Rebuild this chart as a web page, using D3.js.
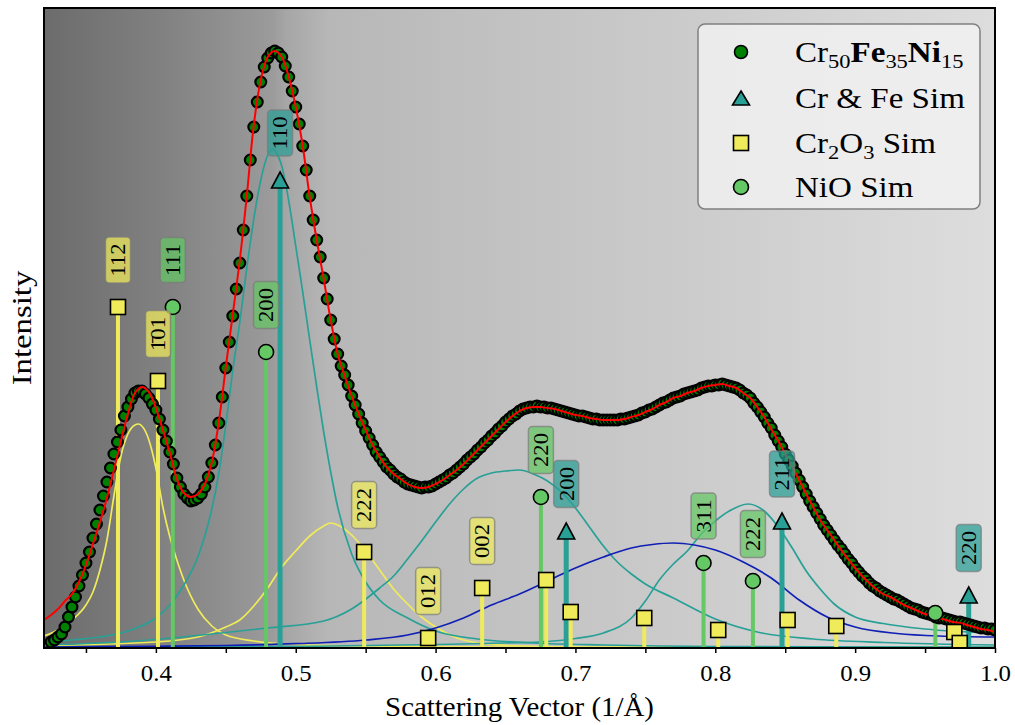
<!DOCTYPE html>
<html>
<head>
<meta charset="utf-8">
<script src="https://cdn.jsdelivr.net/npm/d3@7"></script>
<style>
  body { margin: 0; background: #ffffff; }
  svg text { font-family: "Liberation Serif", "Times New Roman", serif; fill: #000; }
</style>
</head>
<body>
<svg id="chart" width="1015" height="725"></svg>
<script>
// ---------- measured pattern (Cr50Fe35Ni15) ----------
const dataStart = 0.325;
const dataStep = 0.0025;
const dataIntensity = [
  6,8,11,14,21,31,41,51,62,73,
  85,96,110,124,138,152,166,180,194,206,
  218,232,241,249,255,257,257,254,250,244,
  238,229,218,207,196,184,170,161,154,150,
  147,148,150,154,161,171,185,203,225,251,
  280,306,332,359,385,418,452,488,521,546,
  566,581,590,595,597,595,591,582,571,557,
  541,524,502,478,452,428,408,391,370,349,
  328,309,294,282,273,263,252,243,234,225,
  217,210,203,196,191,186,181,178,174,171,
  169,166,164,163,162,161,160,161,161,162,
  164,166,168,170,173,175,178,181,184,188,
  191,194,198,201,205,208,212,215,219,222,
  226,229,232,234,237,239,240,241,241,242,
  241,241,240,240,239,238,237,236,235,234,
  233,232,232,231,230,229,229,228,228,228,
  228,228,228,229,229,230,231,232,233,235,
  236,238,239,241,243,245,246,248,250,251,
  252,254,255,256,257,258,260,261,262,262,
  263,263,264,263,262,261,260,258,255,253,
  250,245,241,236,231,225,220,213,207,201,
  194,188,182,175,168,161,154,147,141,135,
  129,123,118,113,108,103,99,94,89,85,
  80,76,72,69,65,62,60,57,55,53,
  51,49,48,46,44,42,40,39,38,36,
  35,34,33,31,30,30,29,28,27,26,
  26,25,24,23,22,21,20,20,19,19,18
];

// ---------- total fit ----------
const fitStart = 0.32;
const fitStep = 0.005;
const fitIntensity = [
  28,33,39,47,54,66,83,104,126,150,
  178,207,234,255,261,256,240,218,195,169,
  155,151,154,164,186,226,281,334,388,452,
  523,568,591,597,591,571,541,502,451,408,
  369,328,294,272,252,234,218,203,191,181,
  174,169,164,161,160,161,164,168,173,178,
  184,191,198,205,212,219,226,232,237,240,
  241,241,240,239,237,235,233,232,230,229,
  228,228,228,229,231,233,236,239,243,246,
  250,252,255,257,260,262,263,264,262,260,
  255,250,241,231,219,207,194,181,168,154,
  141,128,118,108,98,89,80,72,65,59,
  54,51,47,43,40,37,34,32,30,28,
  26,25,23,21,19,18,16
];

// ---------- fitted components ----------
const cr2o3NarrowQ = [0.32,0.33,0.34,0.35,0.355,0.36,0.365,0.37,0.375,0.38,0.385,0.3875,0.39,0.395,0.40,0.405,0.41,0.415,0.42,0.43,0.44,0.45,0.47,0.50,0.55,0.65,0.80,1.0];
const cr2o3NarrowI = [12,18,28,43,56,78,108,152,192,214,223,224,222,208,180,141,111,88,68,39,22,13,7,3.5,2,1,0.5,0.5];

const cr2o3BroadQ = [0.32,0.40,0.43,0.45,0.46,0.47,0.48,0.49,0.50,0.51,0.52,0.525,0.53,0.54,0.55,0.56,0.57,0.58,0.59,0.60,0.62,0.65,0.70,1.0];
const cr2o3BroadI = [2.5,6,11,21,28,42,60,81,97,112,122,125,123,113,97,78,59,44,31,21,8,2.6,1,0.5];

const crFeMainQ = [0.32,0.34,0.36,0.38,0.40,0.41,0.42,0.43,0.435,0.44,0.445,0.45,0.455,0.46,0.465,0.47,0.475,0.48,0.4835,0.487,0.49,0.495,0.50,0.505,0.51,0.515,0.52,0.525,0.53,0.54,0.55,0.56,0.58,0.60,0.63,0.67,0.72,0.80,1.0];
const crFeMainI = [5,8,11,17,30,43,63,91,112,139,175,223,278,326,380,429,468,493,499,493,482,447,402,356,308,261,216,176,141,94,66,48,30,17,9,5,3,1.5,1];

const crFeBroadQ = [0.32,0.38,0.44,0.48,0.52,0.54,0.56,0.57,0.58,0.59,0.60,0.61,0.62,0.63,0.64,0.65,0.66,0.67,0.68,0.69,0.70,0.71,0.72,0.73,0.74,0.75,0.77,0.80,0.83,0.87,0.92,1.0];
const crFeBroadI = [3,6.5,14,20,27,39,60,72,89,107,126,144,159,170,175,177,178,174,167,156,140,121,102,86,74,64,50,29,16,9,5.5,3];

const crFeHighQ = [0.32,0.50,0.60,0.65,0.68,0.70,0.72,0.74,0.75,0.76,0.77,0.78,0.79,0.80,0.81,0.8235,0.835,0.845,0.855,0.865,0.875,0.885,0.90,0.92,0.95,1.0];
const crFeHighI = [0.5,1.5,3.5,5,6.5,9.5,15,30,47,68,84,97,114,127,137,144,137,121,100,77,59,44,31,24.5,19,15];

const oxideBroadQ = [0.32,0.40,0.45,0.50,0.55,0.58,0.60,0.62,0.64,0.66,0.68,0.70,0.72,0.74,0.755,0.77,0.785,0.80,0.82,0.84,0.86,0.88,0.90,0.93,0.96,1.0];
const oxideBroadI = [1,1.7,2.5,4.3,8,13,20,30,43,54,67,80,91,100,103.5,105,103,98,86,70,48,31,21,14.5,12,11];

// ---------- simulated reflections ----------
const crFePeakQ = [0.4888,0.6934,0.8477,0.9812];
const crFePeakI = [468,117,127,53];
const crFeHkl = ["110","200","211","220"];

const cr2o3PeakQ = [0.3729,0.4015,0.5489,0.5947,0.6333,0.6791,0.6966,0.7492,0.8021,0.8517,0.8865,0.9709,0.9748];
const cr2o3PeakI = [341,267,96,10,60,68,36,30,18,28,22,16,5];
const cr2o3Hkl = ["112","1\u030401","222","012","002",null,null,null,null,null,null,null,null];

const nioPeakQ = [0.4121,0.4788,0.6753,0.7916,0.8269,0.9573];
const nioPeakI = [341,296,151,85,67,35];
const nioHkl = ["111","200","220","311","222",null];

// ---------- axis ----------
const xTickValues = [0.35,0.4,0.45,0.5,0.55,0.6,0.65,0.7,0.75,0.8,0.85,0.9,0.95,1.0];
const xTickLabels = ["0.4","0.5","0.6","0.7","0.8","0.9","1.0"];

// ---------- styling ----------
const COL = {
  data: "#008000",
  fit: "#ff0000",
  yellow: "#efeb5a",
  teal: "#28a096",
  green: "#64c864",
  blue: "#1020b4"
};

const svg = d3.select("#chart");
const plot = { left: 44, right: 995, top: 8, bottom: 648 };

const x = d3.scaleLinear().domain([0.32, 1.0]).range([plot.left, plot.right]);
const y = d3.scaleLinear().domain([0, 640]).range([plot.bottom, plot.top]);

const defs = svg.append("defs");
const bgStops = [
  [0.00, "#6c6c6c"], [0.12, "#808080"], [0.24, "#9b9b9b"], [0.255, "#a6a6a6"],
  [0.30, "#b7b7b7"], [0.45, "#c0c0c0"], [0.65, "#cacaca"], [0.85, "#d5d5d5"], [1.00, "#dddddd"]
];
const grad = defs.append("linearGradient").attr("id", "bgGrad")
  .attr("x1", 0).attr("x2", 1).attr("y1", 0).attr("y2", 0);
bgStops.forEach(([o, c]) => grad.append("stop").attr("offset", o).attr("stop-color", c));

defs.append("clipPath").attr("id", "plotClip").append("rect")
  .attr("x", plot.left).attr("y", plot.top)
  .attr("width", plot.right - plot.left).attr("height", plot.bottom - plot.top);

svg.append("rect")
  .attr("x", plot.left).attr("y", plot.top)
  .attr("width", plot.right - plot.left).attr("height", plot.bottom - plot.top)
  .attr("fill", "url(#bgGrad)");

const inner = svg.append("g").attr("clip-path", "url(#plotClip)");

// component curves
const line = d3.line().x(d => x(d[0])).y(d => y(d[1])).curve(d3.curveMonotoneX);
const components = [
  [cr2o3NarrowQ, cr2o3NarrowI, COL.yellow],
  [cr2o3BroadQ, cr2o3BroadI, COL.yellow],
  [crFeMainQ, crFeMainI, COL.teal],
  [crFeBroadQ, crFeBroadI, COL.teal],
  [crFeHighQ, crFeHighI, COL.teal],
  [oxideBroadQ, oxideBroadI, COL.blue]
];
components.forEach(([qs, is, c]) => {
  inner.append("path")
    .datum(qs.map((q, i) => [q, is[i]]))
    .attr("d", line)
    .attr("fill", "none").attr("stroke", c).attr("stroke-width", 1.7);
});

// stems
const stemSets = [
  [nioPeakQ, nioPeakI, COL.green, 4],
  [crFePeakQ, crFePeakI, COL.teal, 5],
  [cr2o3PeakQ, cr2o3PeakI, COL.yellow, 4]
];
stemSets.forEach(([qs, is, c, w]) => {
  inner.append("g").selectAll("line").data(qs.map((q, i) => [q, is[i]])).join("line")
    .attr("x1", d => x(d[0])).attr("x2", d => x(d[0]))
    .attr("y1", y(0)).attr("y2", d => y(d[1]))
    .attr("stroke", c).attr("stroke-width", w);
});

// measured points
const pts = dataIntensity.map((v, i) => [dataStart + i * dataStep, v]);
inner.append("g").selectAll("circle").data(pts).join("circle")
  .attr("cx", d => x(d[0])).attr("cy", d => y(d[1])).attr("r", 5.4)
  .attr("fill", COL.data).attr("stroke", "#000").attr("stroke-width", 2.2);

// total fit
const fitPts = fitIntensity.map((v, i) => [fitStart + i * fitStep, v]);
inner.append("path").datum(fitPts)
  .attr("d", d3.line().x(d => x(d[0])).y(d => y(d[1])).curve(d3.curveCatmullRom))
  .attr("fill", "none").attr("stroke", COL.fit).attr("stroke-width", 2);

// markers
function triPath(w, h) {
  return `M0,${-h / 2}L${w / 2},${h / 2}L${-w / 2},${h / 2}Z`;
}
const markerG = inner.append("g");
markerG.selectAll("circle.nio").data(nioPeakQ.map((q, i) => [q, nioPeakI[i]])).join("circle")
  .attr("class", "nio")
  .attr("cx", d => x(d[0])).attr("cy", d => y(d[1])).attr("r", 7.5)
  .attr("fill", COL.green).attr("stroke", "#000").attr("stroke-width", 1.6);
markerG.selectAll("path.crfe").data(crFePeakQ.map((q, i) => [q, crFePeakI[i]])).join("path")
  .attr("class", "crfe")
  .attr("transform", d => `translate(${x(d[0])},${y(d[1])})`)
  .attr("d", triPath(17, 16))
  .attr("fill", COL.teal).attr("stroke", "#000").attr("stroke-width", 1.6);
markerG.selectAll("rect.ox").data(cr2o3PeakQ.map((q, i) => [q, cr2o3PeakI[i]])).join("rect")
  .attr("class", "ox")
  .attr("x", d => x(d[0]) - 7.5).attr("y", d => y(d[1]) - 7.5)
  .attr("width", 15).attr("height", 15)
  .attr("fill", COL.yellow).attr("stroke", "#000").attr("stroke-width", 1.6);

// reflection labels
const labelSets = [
  [nioPeakQ, nioPeakI, nioHkl, COL.green],
  [crFePeakQ, crFePeakI, crFeHkl, COL.teal],
  [cr2o3PeakQ, cr2o3PeakI, cr2o3Hkl, COL.yellow]
];
const labelLayer = svg.append("g");
labelSets.forEach(([qs, is, hkl, c]) => {
  qs.forEach((q, i) => {
    if (!hkl[i]) return;
    const g = labelLayer.append("g")
      .attr("transform", `translate(${x(q)},${y(is[i]) - 47}) rotate(-90)`);
    const box = g.append("rect");
    const t = g.append("text")
      .attr("text-anchor", "middle").attr("dominant-baseline", "central")
      .attr("font-size", 21.5).attr("transform", "scale(1.05,1)").text(hkl[i]);
    const bb = t.node().getBBox();
    const w = bb.width * 1.05 + 13, h = 25;
    box.attr("x", -w / 2).attr("y", -h / 2).attr("width", w).attr("height", h)
      .attr("rx", 4).attr("ry", 4)
      .attr("fill", c).attr("fill-opacity", 0.72)
      .attr("stroke", "#7a7a7a").attr("stroke-opacity", 0.7).attr("stroke-width", 1.5);
  });
});

// frame
svg.append("rect")
  .attr("x", plot.left).attr("y", plot.top)
  .attr("width", plot.right - plot.left).attr("height", plot.bottom - plot.top)
  .attr("fill", "none").attr("stroke", "#000").attr("stroke-width", 2);

// x axis
const xAxis = d3.axisBottom(x)
  .tickValues(xTickValues)
  .tickSize(5).tickSizeOuter(0).tickPadding(12)
  .tickFormat(d => {
    const s = d.toFixed(1);
    return (Math.abs(d * 10 - Math.round(d * 10)) < 1e-6 && xTickLabels.includes(s)) ? s : "";
  });
const axG = svg.append("g").attr("transform", `translate(0,${plot.bottom})`).call(xAxis);
axG.select(".domain").remove();
axG.selectAll(".tick line").attr("stroke", "#000").attr("stroke-width", 1.5);
axG.selectAll(".tick text")
  .attr("font-family", "Liberation Serif, serif").attr("font-size", 23).attr("fill", "#000")
  .attr("transform", "scale(1.08,1)");

// axis titles
svg.append("text")
  .attr("transform", `translate(${(plot.left + plot.right) / 2},716) scale(1.05,1)`)
  .attr("text-anchor", "middle").attr("font-size", 27.5)
  .text("Scattering Vector (1/\u00C5)");
svg.append("text")
  .attr("transform", `translate(31,${(plot.top + plot.bottom) / 2}) rotate(-90) scale(1.17,1)`)
  .attr("text-anchor", "middle").attr("font-size", 28)
  .text("Intensity");

// legend
const legend = svg.append("g");
legend.append("rect")
  .attr("x", 698).attr("y", 24).attr("width", 282).attr("height", 185)
  .attr("rx", 7).attr("ry", 7)
  .attr("fill", "#f2f2f2").attr("fill-opacity", 0.8)
  .attr("stroke", "#808080").attr("stroke-width", 1.5);

const legendRows = [52, 98, 143, 187];
const lmx = 741, ltx = 795;
legend.append("circle").attr("cx", lmx).attr("cy", legendRows[0]).attr("r", 6.5)
  .attr("fill", COL.data).attr("stroke", "#000").attr("stroke-width", 1.6);
legend.append("path").attr("transform", `translate(${lmx},${legendRows[1]})`)
  .attr("d", triPath(17, 14)).attr("fill", COL.teal).attr("stroke", "#000").attr("stroke-width", 1.6);
legend.append("rect").attr("x", lmx - 7.5).attr("y", legendRows[2] - 7.5)
  .attr("width", 15).attr("height", 15)
  .attr("fill", COL.yellow).attr("stroke", "#000").attr("stroke-width", 1.6);
legend.append("circle").attr("cx", lmx).attr("cy", legendRows[3]).attr("r", 7.5)
  .attr("fill", COL.green).attr("stroke", "#000").attr("stroke-width", 1.6);

const lfs = 28.5;
function legendText(row) {
  return legend.append("text")
    .attr("transform", `translate(${ltx},${legendRows[row] + 10}) scale(1.16,1)`)
    .attr("font-size", lfs);
}
const sub = (t, s) => t.append("tspan").attr("font-size", lfs * 0.68).attr("dy", 6).text(s);
const up = (t, s, bold) => t.append("tspan").attr("dy", -6).attr("font-weight", bold ? "bold" : null).text(s);

let t0 = legendText(0);
t0.append("tspan").text("Cr");
sub(t0, "50");
up(t0, "Fe", true);
sub(t0, "35");
up(t0, "Ni", true);
sub(t0, "15");

legendText(1).text("Cr & Fe Sim");

let t2 = legendText(2);
t2.append("tspan").text("Cr");
sub(t2, "2");
up(t2, "O");
sub(t2, "3");
up(t2, " Sim");

legendText(3).text("NiO Sim");
</script>
</body>
</html>
